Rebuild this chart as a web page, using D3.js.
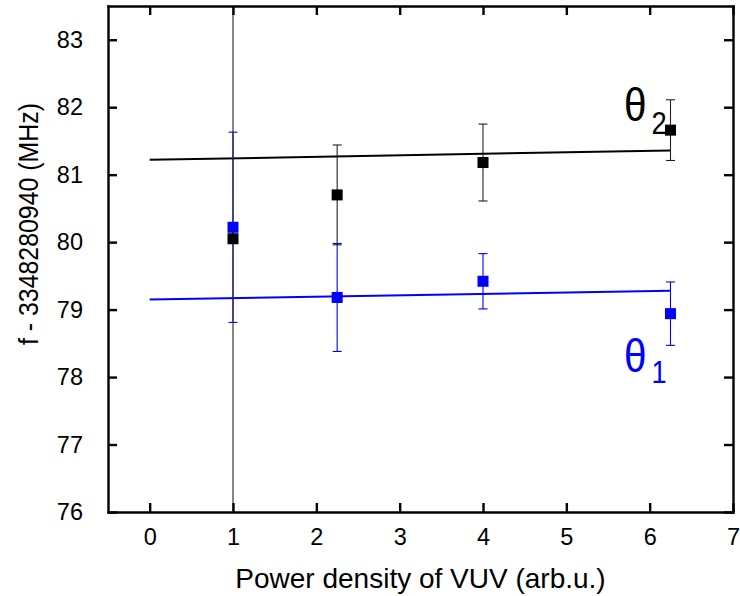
<!DOCTYPE html>
<html>
<head>
<meta charset="utf-8">
<script src="https://cdn.jsdelivr.net/npm/d3@7"></script>
<style>
  body { margin: 0; background: #fff; }
  svg { display: block; }
  .axis text { font-family: "Liberation Sans", Arial, sans-serif; font-size: 23.5px; fill: #000; }
  .axis path, .axis line { stroke: #000; stroke-width: 2.4; }
</style>
</head>
<body>
<script>
const width = 740;
const height = 596;

// data
const power = [1, 2.25, 4, 6.25];
const theta2 = [80.05, 80.7, 81.18, 81.66];
const theta2Err = [5, 0.74, 0.57, 0.45];
const theta1 = [80.22, 79.18, 79.42, 78.94];
const theta1Err = [1.41, 0.8, 0.41, 0.47];
// linear fits (endpoints at x = 0 and x = 6.25)
const fitX = [0, 6.25];
const fit2 = [81.22, 81.36];
const fit1 = [79.15, 79.28];
const xTicks = [0, 1, 2, 3, 4, 5, 6, 7];
const yTicks = [76, 77, 78, 79, 80, 81, 82, 83];

const margin = {top: 6, right: 7, bottom: 84, left: 108};

const svg = d3.select("body")
  .append("svg")
  .attr("width", width)
  .attr("height", height);

const x = d3.scaleLinear().domain([-0.5, 7]).range([margin.left, width - margin.right]);
const y = d3.scaleLinear().domain([76, 83.5]).range([height - margin.bottom, margin.top]);

svg.append("clipPath").attr("id", "clip")
  .append("rect")
  .attr("x", margin.left).attr("y", margin.top)
  .attr("width", width - margin.left - margin.right)
  .attr("height", height - margin.top - margin.bottom);

const plot = svg.append("g").attr("clip-path", "url(#clip)");

// fit lines
const line = d3.line().x(d => x(d[0])).y(d => y(d[1]));
plot.append("path").datum(d3.zip(fitX, fit2))
  .attr("d", line).attr("fill", "none").attr("stroke", "#000").attr("stroke-width", 2);
plot.append("path").datum(d3.zip(fitX, fit1))
  .attr("d", line).attr("fill", "none").attr("stroke", "#0000ff").attr("stroke-width", 2);

// error bars
function errorBars(vals, errs, color) {
  const data = power.map((p, i) => ({p, v: vals[i], e: errs[i]}));
  const g = plot.append("g").attr("stroke", color).attr("stroke-width", 1.1);
  g.selectAll(".bar").data(data).enter().append("line")
    .attr("x1", d => x(d.p)).attr("x2", d => x(d.p))
    .attr("y1", d => y(d.v - d.e)).attr("y2", d => y(d.v + d.e));
  [-1, 1].forEach(s => {
    g.selectAll(".cap" + s).data(data).enter().append("line")
      .attr("x1", d => x(d.p) - 4.5).attr("x2", d => x(d.p) + 4.5)
      .attr("y1", d => y(d.v + s * d.e)).attr("y2", d => y(d.v + s * d.e));
  });
}
errorBars(theta1, theta1Err, "#0000ff");
errorBars(theta2, theta2Err, "#222");

function markers(vals, color) {
  plot.append("g").selectAll("rect").data(power.map((p, i) => [p, vals[i]]))
    .enter().append("rect")
    .attr("x", d => x(d[0]) - 5.5).attr("y", d => y(d[1]) - 5.5)
    .attr("width", 11).attr("height", 11)
    .attr("fill", color);
}
markers(theta1, "#0000ff");
markers(theta2, "#000");

// axes (frame with inward ticks)
const bottom = height - margin.bottom;
svg.append("g").attr("class", "axis")
  .attr("transform", `translate(0,${bottom})`)
  .call(d3.axisBottom(x).tickValues(xTicks).tickSizeInner(-9).tickSizeOuter(0).tickPadding(16));
svg.append("g").attr("class", "axis")
  .attr("transform", `translate(0,${margin.top})`)
  .call(d3.axisTop(x).tickValues(xTicks).tickSizeInner(-9).tickSizeOuter(0).tickFormat(""));
svg.append("g").attr("class", "axis")
  .attr("transform", `translate(${margin.left},0)`)
  .call(d3.axisLeft(y).tickValues(yTicks).tickSizeInner(-9).tickSizeOuter(0).tickPadding(25));
svg.append("g").attr("class", "axis")
  .attr("transform", `translate(${width - margin.right},0)`)
  .call(d3.axisRight(y).tickValues(yTicks).tickSizeInner(-9).tickSizeOuter(0).tickFormat(""));
svg.selectAll(".axis .domain").attr("stroke-linecap", "square");

// axis titles
svg.append("text")
  .attr("x", (margin.left + width - margin.right) / 2)
  .attr("y", 588)
  .attr("text-anchor", "middle")
  .style("font-family", "'Liberation Sans', Arial, sans-serif")
  .style("font-size", "28px")
  .text("Power density of VUV (arb.u.)");

svg.append("text")
  .attr("transform", "translate(38,224) rotate(-90)")
  .attr("text-anchor", "middle")
  .attr("textLength", 242)
  .attr("lengthAdjust", "spacingAndGlyphs")
  .style("font-family", "'Liberation Sans', Arial, sans-serif")
  .style("font-size", "27px")
  .text("f - 3348280940 (MHz)");

// series labels (narrowed sans to mimic the original typeface)
function thetaLabel(xp, yp, subDy, sub, color) {
  const t = svg.append("text")
    .attr("transform", `translate(${xp},${yp}) scale(0.88,1)`)
    .attr("fill", color)
    .style("font-family", "'Liberation Sans', Arial, sans-serif")
    .style("font-size", "46px");
  t.append("tspan").attr("x", -1).attr("y", 0).text("θ");
  t.append("tspan").attr("x", 30).attr("y", subDy).style("font-size", "31px").text(sub);
}
thetaLabel(625, 121, 13, "2", "#000");
thetaLabel(625, 372, 11, "1", "#0000ff");
</script>
</body>
</html>
